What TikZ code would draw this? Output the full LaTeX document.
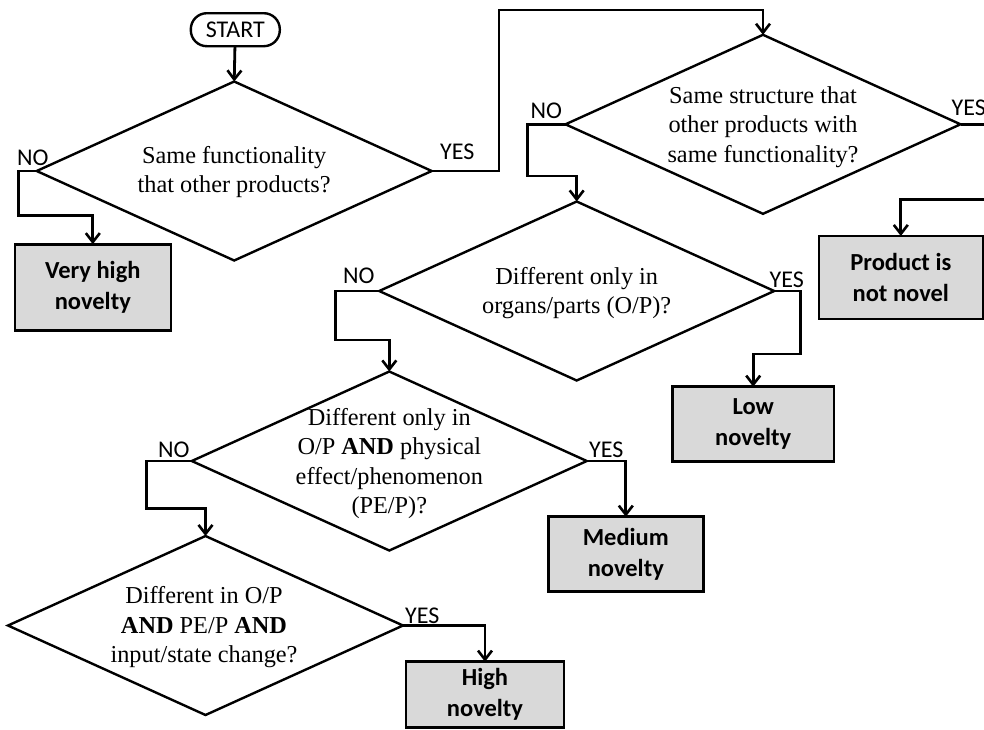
\documentclass[tikz,border=0pt]{standalone}
\usepackage{fontspec}
\setmainfont{Liberation Serif}
\newfontfamily\carlitofont{Carlito}
\usetikzlibrary{arrows.meta,shapes.geometric}
\definecolor{boxgray}{HTML}{D9D9D9}
\tikzset{
  dia/.style={draw, shape=diamond, inner sep=0pt, outer sep=0pt, line width=2.4pt,
    minimum width=395pt, minimum height=179pt},
  qtext/.style={align=center, font=\fontsize{24.3}{29.5}\selectfont, inner sep=0pt},
  outbox/.style={draw, fill=boxgray, line width=2.6pt, outer sep=0pt, align=center,
    font=\carlitofont\bfseries\fontsize{24.5}{30.5}\selectfont},
  lbl/.style={font=\carlitofont\fontsize{24}{26}\selectfont, inner sep=0pt},
  arr/.style={line width=2.8pt, -{Straight Barb[length=9pt,width=14pt,line width=2.6pt]}},
}
\begin{document}
\begin{tikzpicture}[x=1pt,y=-1pt]
\useasboundingbox (0,0) rectangle (984,729);
\clip (0,0) rectangle (984,729);
\fill[white] (0,0) rectangle (984,729);

% start
\node[draw, line width=2.4pt, rounded corners=16pt, minimum width=89pt, minimum height=33pt,
  outer sep=0pt, font=\carlitofont\fontsize{24}{26}\selectfont, inner sep=0pt] (start) at (235.3,29.7) {START};

% diamonds
\node[dia] (d1) at (234.2,171) {};
\node[qtext] (t1) at (234.2,172) {Same functionality\\that other products?};

\node[dia] (d2) at (763,124.3) {};
\node[qtext] (t2) at (763,127) {Same structure that\\other products with\\same functionality?};

\node[dia] (d3) at (576.7,291) {};
\node[qtext] (t3) at (576.7,293) {Different only in\\organs/parts (O/P)?};

\node[dia] (d4) at (389.3,461) {};
\node[qtext] (t4) at (389.3,463.5) {Different only in\\O/P \textbf{AND} physical\\effect/phenomenon\\(PE/P)?};

\node[dia] (d5) at (205.5,625.5) {};
\node[qtext] (t5) at (204,627.5) {Different in O/P\\\textbf{AND} PE/P \textbf{AND}\\input/state change?};

% outcome boxes
\node[outbox, minimum width=156pt, minimum height=86pt] (vh) at (92.8,287.2) {Very high\\novelty};
\node[outbox, minimum width=164pt, minimum height=83pt] (pn) at (900.8,277.5) {Product is\\not novel};
\node[outbox, minimum width=161.7pt, minimum height=75pt] (lo) at (753.2,424.2) {Low\\novelty};
\node[outbox, minimum width=155pt, minimum height=75pt] (me) at (625.8,554.2) {Medium\\novelty};
\node[outbox, minimum width=158pt, minimum height=65.6pt] (hi) at (485,694.5) {High\\novelty};

% labels
\node[lbl, anchor=south west] (n1) at (17,166) {NO};
\node[lbl, anchor=south west] (y1) at (440,160) {YES};
\node[lbl, anchor=south west] (n2) at (530.5,119) {NO};
\node[lbl, anchor=south west] (y2) at (951.5,116) {YES};
\node[lbl, anchor=south west] (n3) at (343,284) {NO};
\node[lbl, anchor=south west] (y3) at (769.5,287.5) {YES};
\node[lbl, anchor=south west] (n4) at (158,457.5) {NO};
\node[lbl, anchor=south west] (y4) at (589,457.5) {YES};
\node[lbl, anchor=south west] (y5) at (405,623.5) {YES};

% connectors
\draw[arr] (start) -- (d1.north);
\draw[arr] (d1.west) -- ++(-18.5,0) -- ++(0,44.7) -| (vh.north);
\draw[arr] (d1.east) -- ++(67.3,0) -- ++(0,-161) -| (d2.north);
\draw[arr] (d2.west) -- ++(-37.7,0) -- ++(0,51.7) -| (d3.north);
\draw[arr] (d2.east) -- ++(40,0) -- ++(0,75) -| (pn.north);
\draw[arr] (d3.west) -- ++(-44,0) -- ++(0,49) -| (d4.north);
\draw[arr] (d3.east) -- ++(26,0) -- ++(0,63) -| (lo.north);
\draw[arr] (d4.west) -- ++(-45,0) -- ++(0,47.3) -| (d5.north);
\draw[arr] (d4.east) -| (me.north);
\draw[arr] (d5.east) -| (hi.north);
\end{tikzpicture}
\end{document}
